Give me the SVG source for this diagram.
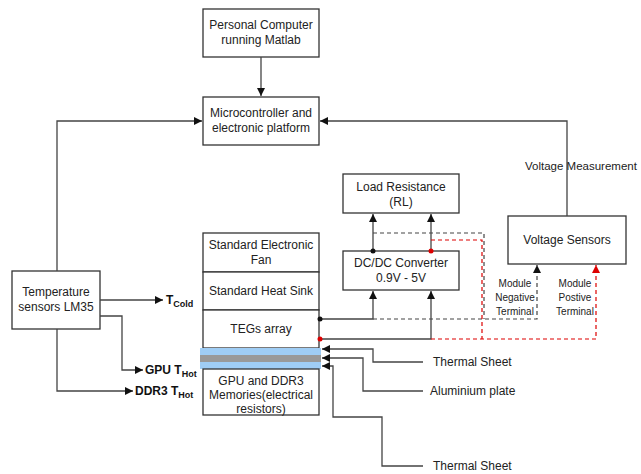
<svg xmlns="http://www.w3.org/2000/svg" width="641" height="474" viewBox="0 0 641 474">
<style>
.box{fill:#fff;stroke:#333;stroke-width:1.3}
.t{font-family:"Liberation Sans",Arial,sans-serif;font-size:12px;fill:#222;text-anchor:middle}
.l{font-family:"Liberation Sans",Arial,sans-serif;font-size:12px;fill:#222}
.s{font-family:"Liberation Sans",Arial,sans-serif;font-size:10px;fill:#222;text-anchor:middle}
.b{font-family:"Liberation Sans",Arial,sans-serif;font-size:12px;font-weight:bold;fill:#111}
.ln{fill:none;stroke:#444;stroke-width:1.3}
.dk{fill:none;stroke:#444;stroke-width:1.2;stroke-dasharray:4,3}
.dr{fill:none;stroke:#d00;stroke-width:1.2;stroke-dasharray:4,3}
</style>
<defs>
<marker id="a" markerUnits="userSpaceOnUse" markerWidth="9" markerHeight="8" refX="8" refY="4" orient="auto"><path d="M0,0 L8,4 L0,8 z" fill="#111"/></marker>
<marker id="ar" markerUnits="userSpaceOnUse" markerWidth="9" markerHeight="8" refX="8" refY="4" orient="auto"><path d="M0,0 L8,4 L0,8 z" fill="#d00"/></marker>
</defs>
<rect width="641" height="474" fill="#fff"/>

<g id="pc"><rect class="box" x="203" y="9" width="116" height="48"/><text class="t" x="261" y="29">Personal Computer</text><text class="t" x="261" y="44">running Matlab</text></g>
<g id="mcu"><rect class="box" x="203" y="97" width="116" height="48"/><text class="t" x="261" y="117">Microcontroller and</text><text class="t" x="261" y="132">electronic platform</text></g>
<g id="temp"><rect class="box" x="12" y="271" width="88" height="58"/><text class="t" x="56" y="296">Temperature</text><text class="t" x="56" y="311">sensors LM35</text></g>
<g id="fan"><rect class="box" x="203" y="233" width="116" height="39"/><text class="t" x="261" y="249">Standard Electronic</text><text class="t" x="261" y="264">Fan</text></g>
<g id="sink"><rect class="box" x="203" y="272" width="116" height="38"/><text class="t" x="261" y="295">Standard Heat Sink</text></g>
<g id="teg"><rect class="box" x="203" y="310" width="116" height="38"/><text class="t" x="261" y="333">TEGs array</text></g>
<g id="layers"><rect x="200" y="348" width="121" height="21" fill="#9fcdf5"/><rect x="200" y="355" width="121" height="7" fill="#999"/></g>
<g id="gpu"><rect class="box" x="203" y="369" width="116" height="46"/><text class="t" x="261" y="385">GPU and DDR3</text><text class="t" x="261" y="399">Memories(electrical</text><text class="t" x="261" y="413">resistors)</text></g>
<g id="load"><rect class="box" x="343" y="174" width="116" height="39"/><text class="t" x="401" y="191">Load Resistance</text><text class="t" x="401" y="206">(RL)</text></g>
<g id="dcdc"><rect class="box" x="343" y="251" width="116" height="39"/><text class="t" x="401" y="267">DC/DC Converter</text><text class="t" x="401" y="282">0.9V - 5V</text></g>
<g id="vs"><rect class="box" x="508" y="216" width="118" height="48"/><text class="t" x="567" y="244">Voltage Sensors</text></g>

<g id="connectors">
<path class="ln" d="M261,57 V96" marker-end="url(#a)"/>
<path class="ln" d="M57,271 V121 H202" marker-end="url(#a)"/>
<path class="ln" d="M567,216 V121 H320" marker-end="url(#a)"/>
<path class="ln" d="M100,300 H163" marker-end="url(#a)"/>
<path class="ln" d="M100,316 H122 V370 H143" marker-end="url(#a)"/>
<path class="ln" d="M57,329 V391 H133" marker-end="url(#a)"/>
<path class="ln" d="M373,251 V214" marker-end="url(#a)"/>
<path class="ln" d="M431,251 V214" marker-end="url(#a)"/>
<path class="ln" d="M320,319 H373 V291" marker-end="url(#a)"/>
<path class="ln" d="M320,339 H431 V291" marker-end="url(#a)"/>
<path class="dk" d="M373,233 H484 V319"/>
<path class="dk" d="M373,319 H537 V265" marker-end="url(#a)"/>
<path class="dr" d="M431,240 H482 V339"/>
<path class="dr" d="M431,339 H596 V265" marker-end="url(#ar)"/>
<circle cx="373" cy="251" r="2.5" fill="#111"/>
<circle cx="431" cy="251" r="2.5" fill="#d00"/>
<circle cx="320" cy="319" r="2.5" fill="#111"/>
<circle cx="320" cy="339" r="2.5" fill="#d00"/>
<path class="ln" d="M423,362 H373 V349 H322" marker-end="url(#a)"/>
<path class="ln" d="M423,391 H363 V358 H322" marker-end="url(#a)"/>
<path class="ln" d="M423,466 H382 V417 H333 V366 H322" marker-end="url(#a)"/>
</g>

<g id="labels">
<text class="l" x="525" y="170" style="font-size:11.5px">Voltage Measurement</text>
<text class="s" x="515" y="287">Module</text><text class="s" x="515" y="301">Negative</text><text class="s" x="515" y="315">Terminal</text>
<text class="s" x="575" y="287">Module</text><text class="s" x="575" y="301">Postive</text><text class="s" x="575" y="315">Terminal</text>
<text class="l" x="433" y="366">Thermal Sheet</text>
<text class="l" x="430" y="395">Aluminium plate</text>
<text class="l" x="433" y="470">Thermal Sheet</text>
<text class="b" x="166" y="304">T<tspan font-size="9" dy="3">Cold</tspan></text>
<text class="b" x="145" y="374">GPU T<tspan font-size="9" dy="3">Hot</tspan></text>
<text class="b" x="135" y="395">DDR3 T<tspan font-size="9" dy="3">Hot</tspan></text>
</g>
</svg>
